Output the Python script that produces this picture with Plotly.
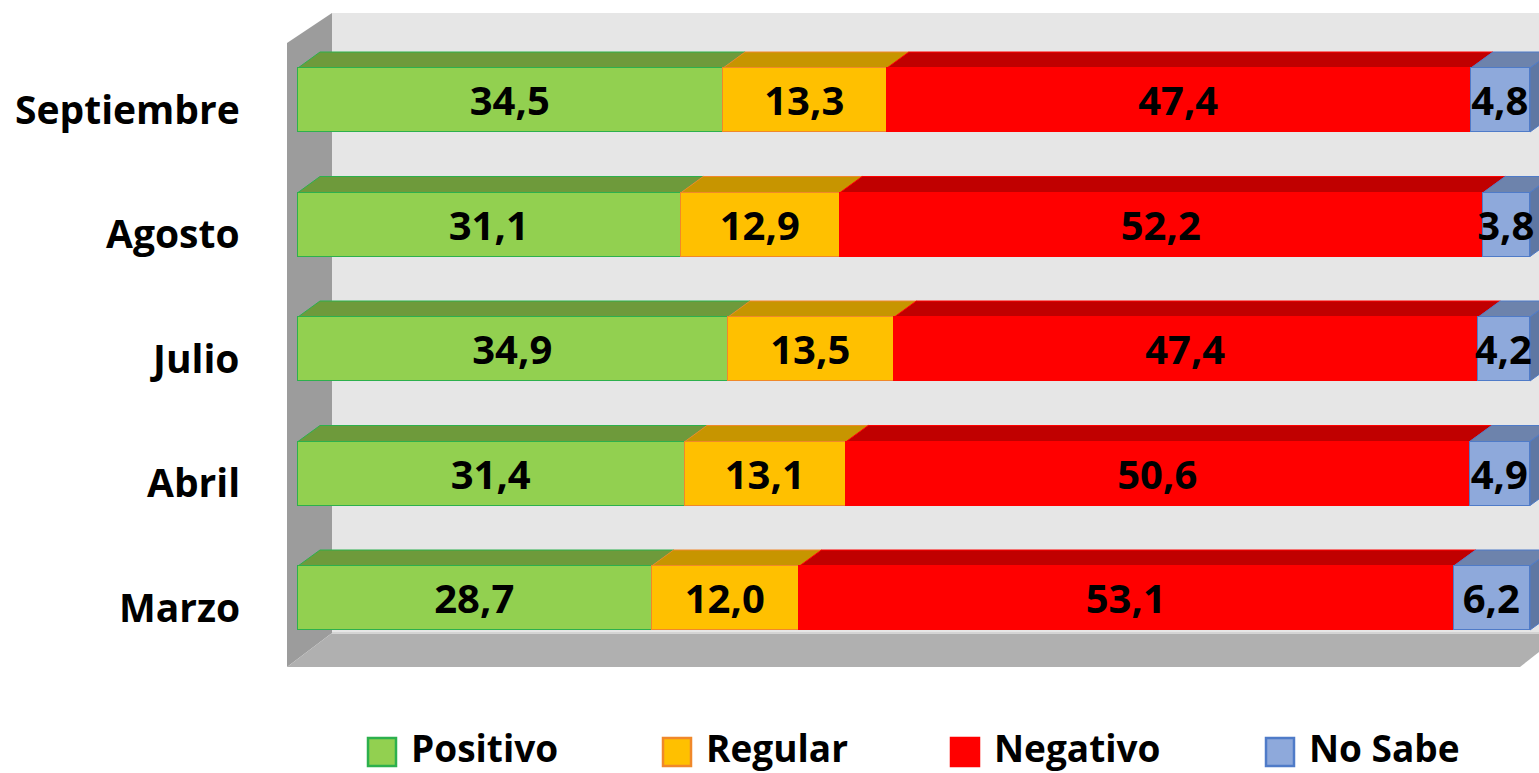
import plotly.graph_objects as go

# ---------------- data ----------------
categories = ["Marzo", "Abril", "Julio", "Agosto", "Septiembre"]
positivo = [28.7, 31.4, 34.9, 31.1, 34.5]
regular = [12.0, 13.1, 13.5, 12.9, 13.3]
negativo = [53.1, 50.6, 47.4, 52.2, 47.4]
no_sabe = [6.2, 4.9, 4.2, 3.8, 4.8]
series_names = ["Positivo", "Regular", "Negativo", "No Sabe"]

# ---------------- style ----------------
FONT = "Open Sans"
front_colors = ["#92D050", "#FFC000", "#FF0000", "#8EA9DB"]
top_colors = ["#6E9A3B", "#C79500", "#C00000", "#6D83AC"]
side_color_last = "#5E77A3"
border_colors = ["#2DB04D", "#F0882A", "#FF0000", "#4F7BC8"]

FIG_W, FIG_H = 1539, 773
L, R, T, B = 287, 1539, 13, 667          # plot area in pixels
PW, PH = R - L, B - T
ZERO_X_PX, ZERO_Y_PX = 298, 598           # pixel of value 0 / first category
PPX, PPY = 12.32, 124.5                   # pixels per data unit
BAR_W = 64 / PPY
DX, DY = 22 / PPX, 16 / PPY               # 3-D depth offset in data units


def pxx(x):
    return (x - L) / PW


def pxy(y):
    return (B - y) / PH


positions = list(range(len(categories)))
series = [positivo, regular, negativo, no_sabe]


def fmt(v):
    return f"{v:.1f}".replace(".", ",")


fig = go.Figure()
for name, vals, fc, bc in zip(series_names, series, front_colors, border_colors):
    fig.add_trace(go.Bar(
        y=positions, x=vals, orientation="h", name=name,
        width=BAR_W,
        marker=dict(color=fc, line=dict(color=bc, width=1.5)),
        text=[fmt(v) for v in vals], textposition="inside",
        insidetextanchor="middle", textangle=0,
        textfont=dict(family=FONT, size=40, color="black", weight="bold"),
        showlegend=False, hoverinfo="skip",
    ))

shapes = []
# back wall
shapes.append(dict(type="rect", xref="paper", yref="paper",
                   x0=pxx(332), x1=pxx(1600), y0=pxy(633), y1=pxy(13),
                   fillcolor="#E6E6E6", line=dict(width=0), layer="below"))
# side wall
shapes.append(dict(type="path", xref="paper", yref="paper",
                   path=f"M{pxx(287)},{pxy(43)} L{pxx(332)},{pxy(13)} L{pxx(332)},{pxy(633)} L{pxx(287)},{pxy(667)} Z",
                   fillcolor="#9C9C9C", line=dict(width=0), layer="below"))
# floor
shapes.append(dict(type="path", xref="paper", yref="paper",
                   path=f"M{pxx(287)},{pxy(667)} L{pxx(332)},{pxy(633)} L{pxx(1563)},{pxy(633)} L{pxx(1520)},{pxy(667)} Z",
                   fillcolor="#B0B0B0", line=dict(width=0), layer="below"))
shapes.append(dict(type="line", xref="paper", yref="paper",
                   x0=pxx(332), x1=pxx(1563), y0=pxy(633), y1=pxy(633),
                   line=dict(color="#D4D4D4", width=2), layer="below"))

# 3-D top faces (and right side face of the last segment)
h = BAR_W / 2
for i, c in enumerate(positions):
    start = 0.0
    for k, vals in enumerate(series):
        end = start + vals[i]
        shapes.append(dict(
            type="path", xref="x", yref="y",
            path=(f"M{start},{c + h} L{end},{c + h} L{end + DX},{c + h + DY} "
                  f"L{start + DX},{c + h + DY} Z"),
            fillcolor=top_colors[k], line=dict(color=border_colors[k], width=1),
            layer="below"))
        if k == len(series) - 1:
            shapes.append(dict(
                type="path", xref="x", yref="y",
                path=(f"M{end},{c - h} L{end},{c + h} L{end + DX},{c + h + DY} "
                      f"L{end + DX},{c - h + DY} Z"),
                fillcolor=side_color_last, line=dict(color=border_colors[k], width=1),
                layer="below"))
        start = end

annotations = []
# category labels
for c, name in zip(positions, categories):
    annotations.append(dict(
        xref="paper", yref="y", x=pxx(242), y=c, yshift=-8,
        xanchor="right", yanchor="middle", text=name, showarrow=False,
        font=dict(family=FONT, size=39, color="black", weight="bold")))

# custom legend
legend_box_x = [368, 663, 951, 1266]
BOX = 28
LEG_Y = 752
for k, name in enumerate(series_names):
    bx = legend_box_x[k]
    shapes.append(dict(type="rect", xref="paper", yref="paper",
                       x0=pxx(bx), x1=pxx(bx + BOX),
                       y0=pxy(LEG_Y + BOX / 2), y1=pxy(LEG_Y - BOX / 2),
                       fillcolor=front_colors[k],
                       line=dict(color=border_colors[k], width=2.5)))
    annotations.append(dict(
        xref="paper", yref="paper", x=pxx(bx + BOX + 13), y=pxy(LEG_Y - 5),
        xanchor="left", yanchor="middle", text=name, showarrow=False,
        font=dict(family=FONT, size=37, color="black", weight="bold")))

fig.update_layout(
    width=FIG_W, height=FIG_H,
    margin=dict(l=L, r=FIG_W - R, t=T, b=FIG_H - B, pad=0),
    barmode="stack", bargap=0,
    plot_bgcolor="rgba(0,0,0,0)", paper_bgcolor="white",
    xaxis=dict(range=[(L - ZERO_X_PX) / PPX, (R - ZERO_X_PX) / PPX],
               visible=False, fixedrange=True),
    yaxis=dict(range=[(ZERO_Y_PX - B) / PPY, (ZERO_Y_PX - T) / PPY],
               visible=False, fixedrange=True),
    uniformtext=dict(mode="show", minsize=40),
    shapes=shapes, annotations=annotations,
    showlegend=False,
)

fig.write_html("out.html", config={"displayModeBar": False},
               post_script="document.body.style.margin='0';document.body.style.overflow='hidden';")
